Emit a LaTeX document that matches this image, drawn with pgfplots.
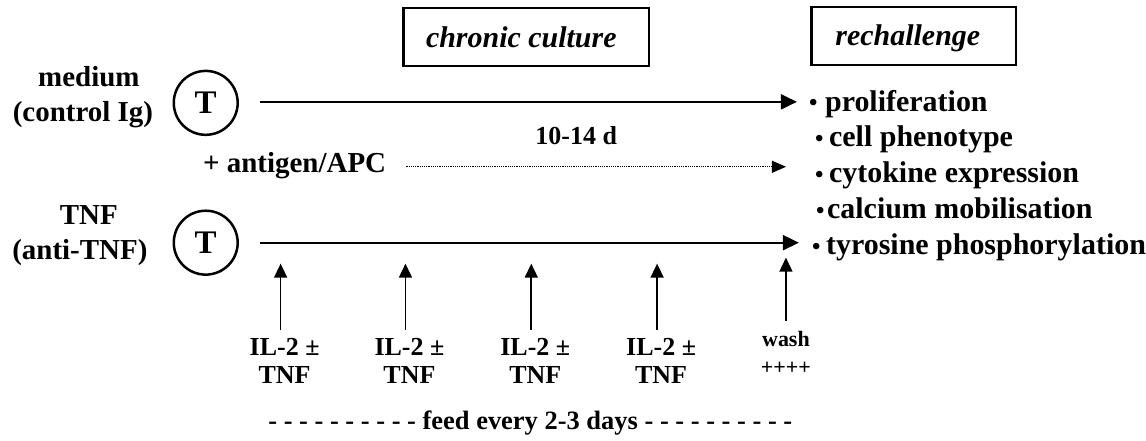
\documentclass[border=0pt]{standalone}
\usepackage{pgfplots}
\pgfplotsset{compat=1.18}
\usepackage{fontspec}
\setmainfont{Liberation Serif}
\usetikzlibrary{arrows.meta}
\tikzset{
  lab/.style={font=\fontsize{29}{35}\selectfont\bfseries, inner sep=0pt, anchor=base},
  li/.style={font=\fontsize{30}{35}\selectfont\bfseries, inner sep=0pt, anchor=base west},
  bu/.style={font=\fontsize{24}{24}\selectfont\bfseries, inner sep=0pt, anchor=base west},
  il/.style={font=\fontsize{26}{28}\selectfont\bfseries, inner sep=0pt, align=center},
  bx/.style={draw, line width=2.5pt, minimum height=58pt, inner sep=0pt},
  bt/.style={font=\fontsize{30}{32}\selectfont\bfseries\itshape, inner sep=0pt, anchor=base},
}
\begin{document}
\begin{tikzpicture}[x=1pt,y=1pt]
\begin{axis}[
  scale only axis, width=1146pt, height=441pt,
  xmin=0, xmax=1146, ymin=0, ymax=441, y dir=reverse,
  hide axis, clip=false,
]
\path (axis cs:0,0) rectangle (axis cs:1146,441);
% boxes
\node[bx, minimum width=246pt] at (axis cs:527,37) {};
\node[bt] at (axis cs:522,48) {chronic culture};
\node[bx, minimum width=205pt] at (axis cs:915,36) {};
\node[bt] at (axis cs:909,46) {rechallenge};
% left labels
\node[lab] at (axis cs:89,87) {medium};
\node[lab] at (axis cs:83,122) {(control Ig)};
\node[lab] at (axis cs:89,225) {TNF};
\node[lab] at (axis cs:80,260) {(anti-TNF)};
% circles
\node[draw, circle, line width=2.5pt, minimum size=64pt, inner sep=0pt, font=\fontsize{33}{35}\selectfont\bfseries] at (axis cs:206,103) {T};
\node[draw, circle, line width=2.5pt, minimum size=64pt, inner sep=0pt, font=\fontsize{33}{35}\selectfont\bfseries] at (axis cs:206,243) {T};
% horizontal arrows
\addplot[line width=2pt, -{Triangle[length=16pt,width=15pt]}] coordinates {(260,102) (798,102)};
\addplot[line width=2pt, -{Triangle[length=16pt,width=15pt]}] coordinates {(260,243) (800,243)};
\addplot[line width=1.2pt, densely dotted, -{Triangle[length=14pt,width=12pt]}] coordinates {(407,167) (787,167)};
\node[lab] at (axis cs:295,173) {+ antigen/APC};
\node[lab, font=\fontsize{26}{28}\selectfont\bfseries] at (axis cs:577,145) {10-14 d};
% vertical arrows
\addplot[line width=1.6pt, -{Triangle[length=14pt,width=13pt]}] coordinates {(281,330) (281,264)};
\addplot[line width=1.6pt, -{Triangle[length=14pt,width=13pt]}] coordinates {(406,330) (406,264)};
\addplot[line width=1.6pt, -{Triangle[length=14pt,width=13pt]}] coordinates {(532,330) (532,264)};
\addplot[line width=1.6pt, -{Triangle[length=14pt,width=13pt]}] coordinates {(658,330) (658,264)};
\addplot[line width=1.6pt, -{Triangle[length=14pt,width=13pt]}] coordinates {(787,321) (787,258)};
% feed labels
\node[il] at (axis cs:285,361) {IL-2 \textpm\\TNF};
\node[il] at (axis cs:410,361) {IL-2 \textpm\\TNF};
\node[il] at (axis cs:536,361) {IL-2 \textpm\\TNF};
\node[il] at (axis cs:662,361) {IL-2 \textpm\\TNF};
\node[align=center, inner sep=0pt, font=\fontsize{22}{28}\selectfont\bfseries] at (axis cs:787,353) {wash\\++++};
\node[inner sep=0pt, font=\fontsize{26.5}{28}\selectfont\bfseries] at (axis cs:531,424) {- - - - - - - - - - feed every 2-3 days - - - - - - - - - -};
% bullet list
\node[bu] at (axis cs:810,111) {\textbullet};
\node[bu] at (axis cs:816,147) {\textbullet};
\node[bu] at (axis cs:816,183) {\textbullet};
\node[bu] at (axis cs:817,219) {\textbullet};
\node[bu] at (axis cs:813,255) {\textbullet};
\node[li] at (axis cs:826,112) {proliferation};
\node[li] at (axis cs:830,147) {cell phenotype};
\node[li] at (axis cs:830,183) {cytokine expression};
\node[li] at (axis cs:828,219) {calcium mobilisation};
\node[li] at (axis cs:827,255) {tyrosine phosphorylation};
\end{axis}
\end{tikzpicture}
\end{document}
